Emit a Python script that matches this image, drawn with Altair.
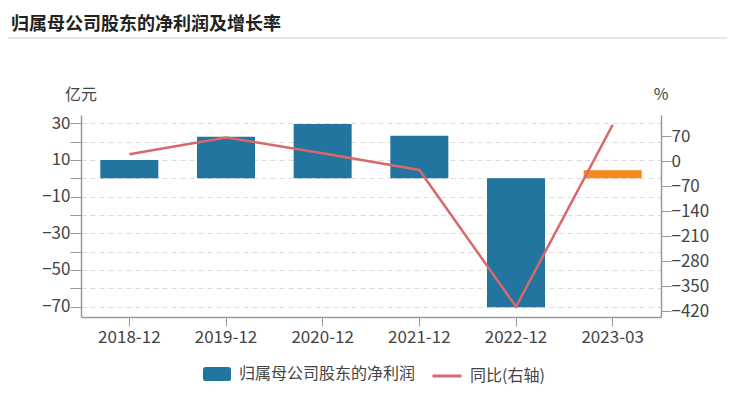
import altair as alt
import pandas as pd

# ---- data ----
dates = ["2018-12", "2019-12", "2020-12", "2021-12", "2022-12", "2023-03"]
profit = [10.0, 22.7, 29.6, 23.2, -70.4, 4.4]          # 亿元
yoy = [19, 66, 22, -25, -408, 101]                      # %
bar_kind = ["归属母公司股东的净利润"] * 5 + ["最新"]
line_name = ["同比(右轴)"] * 6

left_ticks = list(range(-70, 31, 10))
right_ticks = [70, 0, -70, -140, -210, -280, -350, -420]

BLUE = "#21759f"
ORANGE = "#f5891e"
RED = "#d8686b"
FONT = "Noto Sans CJK SC"
AXIS_GRAY = "#9a9a9a"
LABEL = "#444444"

df = pd.DataFrame({"date": dates, "profit": profit, "yoy": yoy,
                   "kind": bar_kind, "line": line_name})

W, H = 580, 202
PL, PT = 73, 107

x_enc = alt.X("date:N", sort=dates, title=None,
              scale=alt.Scale(paddingInner=0.4, paddingOuter=0.2),
              axis=alt.Axis(labelAngle=0, labelFontSize=17, labelColor=LABEL,
                            domainColor=AXIS_GRAY, tickColor=AXIS_GRAY,
                            tickSize=9, labelPadding=3, domainWidth=1.5))

rounded = ("M-0.8,-0.5 L0.8,-0.5 Q1,-0.5 1,-0.3 L1,0.3 Q1,0.5 0.8,0.5 "
           "L-0.8,0.5 Q-1,0.5 -1,0.3 L-1,-0.3 Q-1,-0.5 -0.8,-0.5 Z")

bars = alt.Chart(df).mark_bar().encode(
    x=x_enc,
    y=alt.Y("profit:Q", title=None,
            scale=alt.Scale(domain=[-75.7, 34.5], nice=False, zero=False),
            axis=alt.Axis(orient="left", values=left_ticks,
                          labelExpr="(datum.value + 70) % 20 == 0 ? datum.label : ''",
                          grid=True, gridDash=[5, 4], gridColor="#dcdcdc",
                          labelFontSize=17, labelColor=LABEL,
                          domainColor=AXIS_GRAY, tickColor=AXIS_GRAY,
                          tickSize=11, labelPadding=0, domainWidth=1.5)),
    color=alt.Color("kind:N",
                    scale=alt.Scale(domain=["归属母公司股东的净利润", "最新"],
                                    range=[BLUE, ORANGE]),
                    legend=alt.Legend(values=["归属母公司股东的净利润"], title=None,
                                      orient="none", legendX=122, legendY=245,
                                      symbolType=rounded, symbolSize=784,
                                      symbolStrokeWidth=0, labelFontSize=16,
                                      labelLimit=400,
                                      labelColor=LABEL, labelOffset=8, padding=0)),
)

line = alt.Chart(df).mark_line(strokeWidth=2.5).encode(
    x=x_enc,
    y=alt.Y("yoy:Q", title=None,
            scale=alt.Scale(domain=[-436.8, 128.8], nice=False, zero=False),
            axis=alt.Axis(orient="right", values=right_ticks, grid=False,
                          labelFontSize=17, labelColor=LABEL,
                          domainColor=AXIS_GRAY, tickColor=AXIS_GRAY,
                          tickSize=10, labelPadding=0, domainWidth=1.5)),
    stroke=alt.Stroke("line:N", scale=alt.Scale(range=[RED]),
                      legend=alt.Legend(title=None, orient="none",
                                        legendX=350, legendY=245,
                                        symbolType="stroke", symbolSize=841,
                                        symbolStrokeWidth=3, labelFontSize=16,
                                        labelLimit=300,
                                        labelColor=LABEL, labelOffset=7, padding=0)),
)

sep = alt.Chart(pd.DataFrame({"a": [0]})).mark_rule(color="#cccccc", strokeWidth=1).encode(
    x=alt.value(-PL), x2=alt.value(W + 66), y=alt.value(-PT + 30))

unit_l = alt.Chart(pd.DataFrame({"t": ["亿元"]})).mark_text(
    align="center", baseline="middle", fontSize=16, color=LABEL
).encode(text="t:N", x=alt.value(0), y=alt.value(-20))

unit_r = alt.Chart(pd.DataFrame({"t": ["%"]})).mark_text(
    align="center", baseline="middle", fontSize=16, color=LABEL
).encode(text="t:N", x=alt.value(W), y=alt.value(-20))

chart = alt.layer(bars, line, sep, unit_l, unit_r).resolve_scale(
    y="independent", color="independent", stroke="independent"
).properties(
    title=alt.TitleParams("归属母公司股东的净利润及增长率", anchor="start", frame="group",
                          orient="top", fontSize=18, fontWeight="bold", color="#222222",
                          baseline="middle", offset=0, dx=-PL + 3, dy=5),
    width=W, height=H,
    autosize=alt.AutoSizeParams(type="none"),
    padding={"left": PL, "top": PT, "right": 66, "bottom": 75},
).configure(font=FONT).configure_view(stroke=None)

chart.save("out.html", embed_options={"renderer": "svg", "actions": False})
